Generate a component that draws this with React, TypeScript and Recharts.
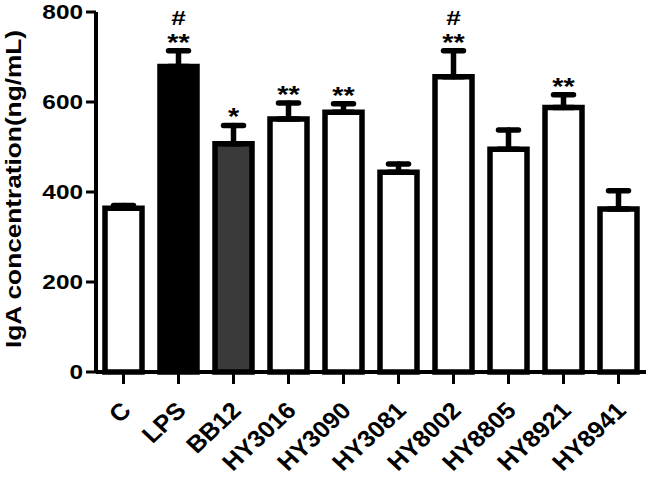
import React from 'react'
import {
  ComposedChart,
  Bar,
  Cell,
  ErrorBar,
  Line,
  LabelList,
  XAxis,
  YAxis,
  Label,
} from 'recharts'

const groups = ['C', 'LPS', 'BB12', 'HY3016', 'HY3090', 'HY3081', 'HY8002', 'HY8805', 'HY8921', 'HY8941']
const means = [364, 679, 507, 562, 577, 444, 656, 495, 588, 362]
const sems = [6, 35, 41, 36, 19, 18, 58, 43, 28, 41]
const stars = ['', '**', '*', '**', '**', '', '**', '', '**', '']
const hashes = ['', '#', '', '', '', '', '#', '', '', '']
const yTicks = [0, 200, 400, 600, 800]

// bar fills by group, white for the rest
const fillFor: Record<string, string> = { LPS: '#000000', BB12: '#3a3a3a' }

const data = groups.map((g, i) => ({
  group: g,
  mean: means[i],
  err: [0, sems[i]],
  top: means[i] + sems[i],
  star: stars[i],
  hash: hashes[i],
}))

const FONT = '"Liberation Sans", Arial, Helvetica, sans-serif'
const STRETCH = 1.25

function YTick({ x, y, payload }: any) {
  return (
    <text
      transform={`translate(${x - 1},${y}) scale(${STRETCH},1)`}
      textAnchor="end"
      dy="0.36em"
      fontFamily={FONT}
      fontWeight="bold"
      fontSize={19.5}
      fill="#000"
    >
      {payload.value}
    </text>
  )
}

function XTick({ x, y, payload }: any) {
  return (
    <text
      transform={`translate(${x + 9},${y + 26}) scale(1.08,1) rotate(-45)`}
      textAnchor="end"
      fontFamily={FONT}
      fontWeight="bold"
      fontSize={23.5}
      fill="#000"
    >
      {payload.value}
    </text>
  )
}

function YTitle({ viewBox }: any) {
  const cy = viewBox.y + viewBox.height / 2 - 3
  return (
    <text
      transform={`translate(21,${cy}) rotate(-90)`}
      textAnchor="middle"
      fontFamily={FONT}
      fontWeight="bold"
      fontSize={22}
      textLength={318}
      lengthAdjust="spacingAndGlyphs"
      fill="#000"
    >
      IgA concentration(ng/mL)
    </text>
  )
}

function Mark(offset: number, size: number) {
  return (p: any) => {
    if (!p.value) return null
    const x = p.x ?? p.viewBox?.x
    const y = p.y ?? p.viewBox?.y
    return (
      <text
        transform={`translate(${x},${y + offset}) scale(${STRETCH},1)`}
        textAnchor="middle"
        fontFamily={FONT}
        fontWeight="bold"
        fontSize={size}
        fill="#000"
      >
        {p.value}
      </text>
    )
  }
}

export default function App() {
  return (
    <div style={{ position: 'absolute', left: 0, top: 0, width: 650, height: 485, background: '#fff' }}>
      <ComposedChart
        width={650}
        height={485}
        data={data}
        margin={{ top: 12, right: 4, left: 0, bottom: 0 }}
      >
        <XAxis
          dataKey="group"
          interval={0}
          height={113}
          tickSize={12}
          axisLine={{ stroke: '#000', strokeWidth: 4 }}
          tickLine={{ stroke: '#000', strokeWidth: 3 }}
          tick={<XTick />}
        />
        <YAxis
          domain={[0, 800]}
          ticks={yTicks}
          width={96}
          tickSize={10}
          axisLine={{ stroke: '#000', strokeWidth: 4 }}
          tickLine={{ stroke: '#000', strokeWidth: 3 }}
          tick={<YTick />}
        >
          <Label content={<YTitle />} />
        </YAxis>
        <Bar
          dataKey="mean"
          barSize={37}
          stroke="#000"
          strokeWidth={5.5}
          isAnimationActive={false}
        >
          {data.map((d) => (
            <Cell key={d.group} fill={fillFor[d.group] ?? '#ffffff'} />
          ))}
          <ErrorBar
            dataKey="err"
            direction="y"
            width={10}
            stroke="#000"
            strokeWidth={5.5}
            strokeLinecap="round"
            isAnimationActive={false}
          />
        </Bar>
        <Line
          dataKey="top"
          stroke="none"
          dot={false}
          activeDot={false}
          legendType="none"
          isAnimationActive={false}
        >
          <LabelList dataKey="star" content={Mark(0, 23)} />
          <LabelList dataKey="hash" content={Mark(-26, 21)} />
        </Line>
      </ComposedChart>
    </div>
  )
}
